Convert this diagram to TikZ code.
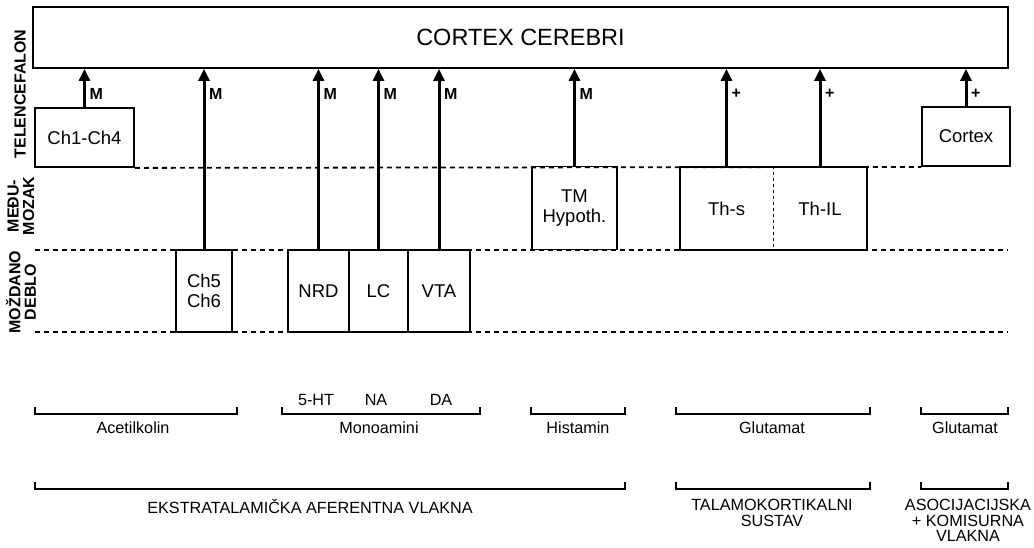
\documentclass[tikz,border=0pt]{standalone}
\usepackage{fontspec}
\setmainfont{Liberation Sans}
\usetikzlibrary{arrows.meta,calc}
\begin{document}
\begin{tikzpicture}[x=1pt,y=-1pt,
  box/.style={draw, line width=1.8pt, inner sep=0pt, align=center, font=\fontsize{18.5}{20.5}\selectfont},
  txt/.style={inner sep=0pt, align=center, font=\fontsize{18.5}{20.5}\selectfont},
  arr/.style={line width=3pt, -{Triangle[length=12pt,width=11pt]}},
  mlab/.style={font=\fontsize{16}{16}\selectfont\bfseries, anchor=west, inner sep=0pt},
  level/.style={line width=1.8pt, dash pattern=on 5pt off 4pt},
  divider/.style={line width=1.8pt, dash pattern=on 3pt off 3pt},
  brk/.style={line width=1.8pt},
  blab/.style={font=\fontsize{16.2}{15.5}\selectfont, align=center, inner sep=0pt},
  side/.style={font=\fontsize{16}{15.5}\selectfont\bfseries, rotate=90, align=center, inner sep=0pt}
]
\useasboundingbox (0,0) rectangle (1034,548);

% side labels
\node[side] (tel) at (20,94) {TELENCEFALON};
\node[side] (med) at (21,206) {MEĐU-\\MOZAK};
\node[side] (mos) at (21,292) {MOŽDANO\\DEBLO};

% boxes
\node[box, minimum width=975pt, minimum height=61pt, font=\fontsize{23.5}{26}\selectfont] (top) at (520.5,37.5) {CORTEX CEREBRI};
\node[box, minimum width=99pt, minimum height=59pt] (ch14) at (84.5,137.5) {Ch1-Ch4};
\node[box, minimum width=56pt, minimum height=82pt] (ch56) at (204,291) {Ch5\\Ch6};
\node[box, minimum width=61pt, minimum height=82pt] (nrd) at (318.5,291) {NRD};
\node[box, minimum width=59pt, minimum height=82pt] (lc) at (378.5,291) {LC};
\node[box, minimum width=62pt, minimum height=82pt] (vta) at (439,291) {VTA};
\node[box, minimum width=85pt, minimum height=83pt] (tm) at (574.5,208) {TM\\Hypoth.};
\node[box, minimum width=187pt, minimum height=83pt] (th) at (773.5,208.5) {};
\node[txt] (ths) at (726.5,208.5) {Th-s};
\node[txt] (thil) at (820,208.5) {Th-IL};
\node[box, minimum width=88pt, minimum height=59pt] (cx) at (966,136.5) {Cortex};

% level lines
\coordinate (l2a) at (35,250);
\coordinate (l2b) at (1008,250);
\coordinate (l3a) at (35,332);
\coordinate (l3b) at (1008,332);
\draw[level] (ch14.south east) -- (cx.south west);
\draw[level] (l2a) -- (l2b);
\draw[level] (l3a) -- (l3b);
\draw[divider] (th.north) -- (th.south);

% arrows
\draw[arr] (ch14.north) -- (ch14.north |- top.south);
\draw[arr] (ch56.north) -- (ch56.north |- top.south);
\draw[arr] (nrd.north) -- (nrd.north |- top.south);
\draw[arr] (lc.north) -- (lc.north |- top.south);
\draw[arr] (vta.north) -- (vta.north |- top.south);
\draw[arr] (tm.north) -- (tm.north |- top.south);
\draw[arr] (ths |- th.north) -- (ths |- top.south);
\draw[arr] (thil |- th.north) -- (thil |- top.south);
\draw[arr] (cx.north) -- (cx.north |- top.south);

\node[mlab] (m1) at ($(ch14.north |- top.south)+(5,25)$) {M};
\node[mlab] (m2) at ($(ch56.north |- top.south)+(5,25)$) {M};
\node[mlab] (m3) at ($(nrd.north |- top.south)+(5,25)$) {M};
\node[mlab] (m4) at ($(lc.north |- top.south)+(5,25)$) {M};
\node[mlab] (m5) at ($(vta.north |- top.south)+(5,25)$) {M};
\node[mlab] (m6) at ($(tm.north |- top.south)+(5,25)$) {M};
\node[mlab] (p1) at ($(ths |- top.south)+(5,25)$) {+};
\node[mlab] (p2) at ($(thil |- top.south)+(5,25)$) {+};
\node[mlab] (p3) at ($(cx.north |- top.south)+(5,25)$) {+};

% brackets row 1
\draw[brk] (35,407) -- (35,414) -- (237,414) -- (237,407);
\draw[brk] (282,407) -- (282,414) -- (480,414) -- (480,407);
\draw[brk] (531,407) -- (531,414) -- (625,414) -- (625,407);
\draw[brk] (676,407) -- (676,414) -- (870,414) -- (870,407);
\draw[brk] (921,407) -- (921,414) -- (1008,414) -- (1008,407);
\node[blab] (ach) at (133,428) {Acetilkolin};
\node[blab] (mono) at (379,428) {Monoamini};
\node[blab] (ht) at (316,400) {5-HT};
\node[blab] (na) at (376,400) {NA};
\node[blab] (da) at (441,400) {DA};
\node[blab] (his) at (578,428) {Histamin};
\node[blab] (glu1) at (772,428) {Glutamat};
\node[blab] (glu2) at (965,428) {Glutamat};

% brackets row 2
\draw[brk] (35,482) -- (35,489) -- (625,489) -- (625,482);
\draw[brk] (676,482) -- (676,489) -- (870,489) -- (870,482);
\draw[brk] (921,482) -- (921,489) -- (1008,489) -- (1008,482);
\node[blab, anchor=north] (ekst) at (310,499) {EKSTRATALAMIČKA AFERENTNA VLAKNA};
\node[blab, anchor=north] (tal) at (772,499) {TALAMOKORTIKALNI\\SUSTAV};
\node[blab, anchor=north] (aso) at (968,499) {ASOCIJACIJSKA\\+ KOMISURNA\\VLAKNA};
\end{tikzpicture}
\end{document}
